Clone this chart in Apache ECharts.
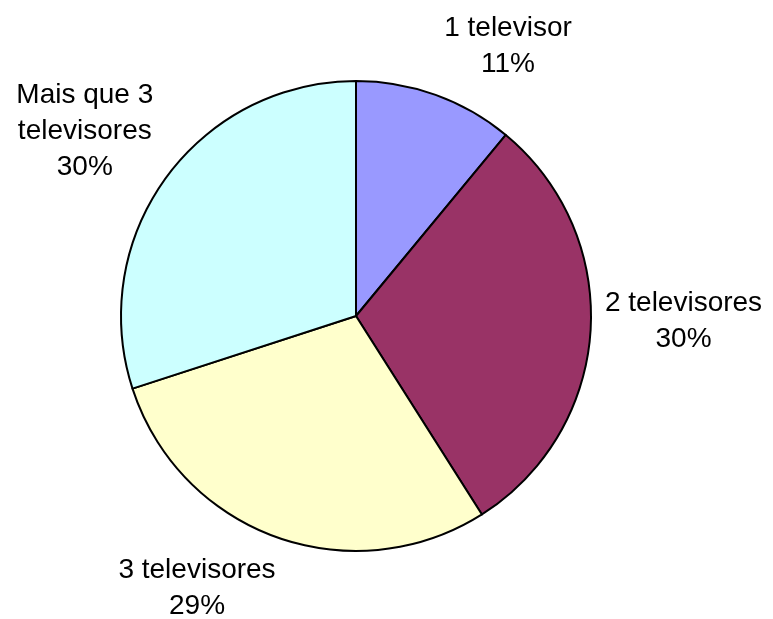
<!DOCTYPE html>
<html>
<head>
<meta charset="utf-8">
<script src="https://cdn.jsdelivr.net/npm/echarts@6/dist/echarts.min.js"></script>
<style>
  html, body { margin: 0; padding: 0; background: #fff; }
  #chart { width: 773px; height: 619px; }
</style>
</head>
<body>
<div id="chart"></div>
<script>
// Number of TV sets per household
const categories = ['1 televisor', '2 televisores', '3 televisores', 'Mais que 3\ntelevisores'];
const shares = [11, 30, 29, 30];
const sliceColors = ['#9999FF', '#993366', '#FFFFCC', '#CCFFFF'];

// Per-slice nudges for the outside labels
const labelShift = [[64, -39], [78, -10], [-71, 42], [-68, -41]];

const chart = echarts.init(document.getElementById('chart'), null, { renderer: 'canvas' });

chart.setOption({
  animation: false,
  backgroundColor: '#ffffff',
  series: [{
    type: 'pie',
    center: [356, 316],
    radius: 235,
    startAngle: 90,
    clockwise: true,
    silent: true,
    data: categories.map((name, i) => ({
      name: name,
      value: shares[i],
      itemStyle: { color: sliceColors[i] }
    })),
    itemStyle: { borderColor: '#000', borderWidth: 2 },
    label: {
      show: true,
      position: 'outside',
      formatter: '{b}\n{c}%',
      fontFamily: 'Liberation Sans, Arial, sans-serif',
      fontSize: 28,
      lineHeight: 36,
      color: '#000'
    },
    labelLine: { show: false, length: 10, length2: 0 },
    labelLayout: function (params) {
      const s = labelShift[params.dataIndex];
      return { align: 'center', verticalAlign: 'middle', dx: s[0], dy: s[1] };
    }
  }]
});
</script>
</body>
</html>
